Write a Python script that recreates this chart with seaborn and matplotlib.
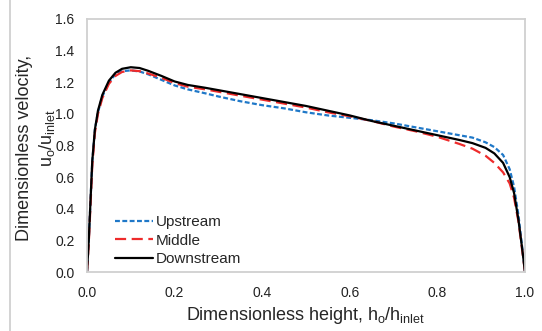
import matplotlib
matplotlib.use("Agg")
import matplotlib.pyplot as plt
import seaborn as sns
import pandas as pd
from matplotlib.lines import Line2D

sns.set_theme(style="white")
plt.rcParams['font.family'] = ['Liberation Sans', 'DejaVu Sans']
plt.rcParams['mathtext.default'] = 'regular'

height = [0, 0.004, 0.008, 0.012, 0.018, 0.025, 0.035, 0.05, 0.065, 0.08, 0.1,
          0.12, 0.14, 0.17, 0.2, 0.23, 0.27, 0.3, 0.35, 0.4, 0.45, 0.5, 0.55,
          0.6, 0.65, 0.7, 0.75, 0.8, 0.85, 0.88, 0.91, 0.93, 0.95, 0.965,
          0.975, 0.985, 0.993, 1.0]

upstream = [0, 0.2, 0.45, 0.7, 0.9, 1.01, 1.11, 1.2, 1.25, 1.27, 1.275, 1.268,
            1.25, 1.215, 1.18, 1.155, 1.13, 1.11, 1.08, 1.055, 1.035, 1.01,
            0.99, 0.975, 0.96, 0.94, 0.915, 0.89, 0.865, 0.85, 0.82, 0.79,
            0.74, 0.65, 0.54, 0.36, 0.17, 0.0]

middle = [0, 0.18, 0.42, 0.67, 0.88, 1.0, 1.1, 1.19, 1.24, 1.265, 1.275, 1.27,
          1.255, 1.228, 1.195, 1.172, 1.155, 1.14, 1.115, 1.09, 1.065, 1.04,
          1.01, 0.985, 0.955, 0.92, 0.89, 0.855, 0.81, 0.78, 0.735, 0.69,
          0.63, 0.56, 0.47, 0.32, 0.15, 0.0]

downstream = [0, 0.2, 0.45, 0.7, 0.9, 1.02, 1.12, 1.21, 1.26, 1.285, 1.295,
              1.29, 1.272, 1.24, 1.205, 1.183, 1.165, 1.15, 1.125, 1.1, 1.075,
              1.05, 1.02, 0.99, 0.955, 0.925, 0.895, 0.865, 0.835, 0.815,
              0.785, 0.75, 0.69, 0.6, 0.5, 0.33, 0.16, 0.0]

series = {"Upstream": upstream, "Middle": middle, "Downstream": downstream}
colors = {"Upstream": "#1f78c8", "Middle": "#ee2b2b", "Downstream": "#000000"}
dashes = {"Upstream": (2.2, 1.1), "Middle": (5, 2.5), "Downstream": ""}

df = pd.concat([pd.DataFrame({"h": height, "u": v, "loc": k})
                for k, v in series.items()])

fig = plt.figure(figsize=(5.42, 3.31), dpi=100)
ax = fig.add_axes([87 / 542, 1 - 272 / 331, 438 / 542, 253 / 331])

sns.lineplot(data=df, x="h", y="u", hue="loc", style="loc",
             palette=colors, dashes=dashes, linewidth=1.6, ax=ax,
             sort=False, estimator=None)

ax.set_xlim(0, 1)
ax.set_ylim(0, 1.6)
ax.set_xticks([0, 0.2, 0.4, 0.6, 0.8, 1.0])
ax.set_yticks([0, 0.2, 0.4, 0.6, 0.8, 1.0, 1.2, 1.4, 1.6])
ax.xaxis.set_major_formatter(matplotlib.ticker.FormatStrFormatter('%.1f'))
ax.yaxis.set_major_formatter(matplotlib.ticker.FormatStrFormatter('%.1f'))
ax.tick_params(labelsize=10, colors="#222222", length=0)
ax.tick_params(axis="x", pad=10)
ax.tick_params(axis="y", pad=9)
for s in ax.spines.values():
    s.set_color("#d0d0d0")
    s.set_linewidth(1.3)

ax.set_xlabel("Dimensionless height, h$_o$/h$_{inlet}$", fontsize=13,
              labelpad=4)
ax.set_ylabel("")
fig.text(25 / 542, 1 - 148 / 331, "Dimensionless velocity,", rotation=90,
         fontsize=13, ha="center", va="center")
fig.text(47 / 542, 1 - 138 / 331, "u$_o$/u$_{inlet}$", rotation=90,
         fontsize=13, ha="center", va="center")

leg = ax.legend(title=None, frameon=False, loc="lower left",
                bbox_to_anchor=(0.035, -0.025), fontsize=11, handlelength=2.5,
                handletextpad=0.2, labelspacing=0.3, borderaxespad=0.4)

fig.add_artist(Line2D([10 / 542, 10 / 542], [0, 1], color="#cccccc",
                      linewidth=1.2, transform=fig.transFigure))

fig.savefig("out.png", dpi=100)
